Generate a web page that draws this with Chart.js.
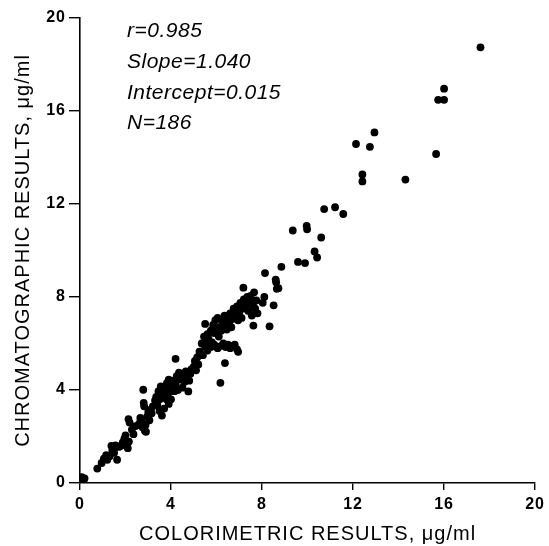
<!DOCTYPE html>
<html>
<head>
<meta charset="utf-8">
<script src="https://cdn.jsdelivr.net/npm/chart.js@4"></script>
<style>
  html, body { margin: 0; padding: 0; background: #fff; }
  #wrap { width: 549px; height: 546px; }
</style>
</head>
<body>
<div id="wrap"><canvas id="myChart" width="549" height="546"></canvas></div>
<script>
// colorimetric (x) vs chromatographic (y) results, ug/ml
const colorimetric = [
    0.05, 0.1, 0.15, 0.2, 0.08,
    0.76, 0.95, 1.05, 1.15, 1.2, 1.3, 1.38, 1.42, 1.5, 1.56, 1.63, 1.7, 1.8, 1.88, 1.95, 2.0, 2.05, 2.1, 2.15, 2.13, 2.18, 2.28, 2.35, 2.45,
    2.6, 2.65, 2.7, 2.75, 2.78, 2.8, 2.82, 2.85, 2.9, 2.88, 2.95, 3.0, 3.05, 3.1, 3.15, 3.2, 3.3, 3.35, 3.4, 3.45,
    3.5, 3.5, 3.55, 3.6, 3.6, 3.7, 3.72, 3.75, 3.8, 3.82, 3.85, 3.9, 3.9, 3.95, 4.0, 4.0, 4.1, 4.12, 4.15, 4.2,
    4.2, 4.25, 4.3, 4.35, 4.4, 4.5,
    4.55, 4.6, 4.65, 4.7, 4.76, 4.8, 4.85, 4.9, 5.0, 5.05, 5.1, 5.15, 5.2, 5.25, 5.35, 5.4, 5.45, 5.5, 5.5, 5.55,
    5.6, 5.6, 5.65, 5.7, 5.75, 5.8,
    5.85, 5.9, 5.95, 6.0, 6.05, 6.1, 6.15, 6.2, 6.25, 6.35, 6.4, 6.45, 6.5, 6.55, 6.6, 6.65, 6.7, 6.75, 6.85, 6.9,
    6.95, 7.0, 7.05, 7.1, 7.15, 7.18, 7.2, 7.3, 7.35, 7.4, 7.45, 7.5, 7.55, 7.6, 7.62, 7.65, 7.7, 7.75, 7.8,
    5.75, 5.9, 6.05, 6.2, 6.3, 6.4, 6.5, 6.6, 6.7, 6.8, 6.9, 6.95, 6.37, 6.17,
    8.03, 8.1, 8.13, 8.33, 8.51, 8.6, 8.62, 8.65, 8.72, 8.85, 9.35, 9.58, 9.89, 9.96, 9.98, 10.31, 10.42, 10.6, 10.73, 11.21,
    11.57, 12.13, 12.41, 12.41, 12.74, 12.94, 14.3, 15.65, 15.74, 16.0, 16.0, 17.6
];
const chromatographic = [
    0.05, 0.15, 0.1, 0.2, 0.25,
    0.62, 0.86, 1.05, 1.2, 1.0, 1.15, 1.6, 1.4, 1.3, 1.62, 1.0, 1.55, 1.6, 1.75, 1.9, 2.05, 1.65, 1.5, 1.78, 2.75, 2.6, 2.3, 2.1, 2.45,
    2.55, 2.8, 2.65, 2.4, 4.01, 3.45, 3.3, 2.25, 2.2, 2.5, 2.85, 3.05, 2.7, 3.15, 3.0, 3.3, 3.55, 3.7, 3.35, 3.95,
    3.6, 3.1, 4.15, 3.8, 2.9, 3.2, 3.9, 4.05, 3.6, 4.3, 3.75, 3.4, 4.45, 3.95, 4.2, 3.6, 4.05, 4.4, 3.95, 5.34,
    4.25, 4.6, 4.0, 4.75, 4.45, 4.1,
    4.55, 4.35, 4.8, 4.6, 3.94, 4.4, 4.7, 4.9, 5.0, 5.25, 4.85, 5.4, 5.1, 5.65, 6.0, 5.5, 6.3, 6.84, 5.85, 6.1,
    5.7, 6.4, 6.2, 5.95, 6.55, 6.05,
    6.8, 6.45, 7.0, 6.6, 7.1, 6.3, 6.7, 6.55, 6.95, 7.2, 6.75, 6.6, 7.0, 6.85, 7.3, 6.7, 7.05, 7.5, 7.2, 7.6,
    7.0, 7.35, 7.75, 7.1, 7.5, 8.4, 7.9, 7.65, 8.0, 7.4, 7.8, 8.05, 7.2, 7.65, 6.77, 8.2, 7.5, 7.85, 7.3,
    5.85, 5.95, 5.8, 5.9, 6.0, 5.85, 5.95, 5.8, 5.9, 5.95, 5.75, 5.64, 5.16, 4.31,
    7.75, 8.0, 9.03, 6.74, 7.64, 8.75, 8.63, 8.35, 8.38, 9.3, 10.86, 9.51, 9.46, 11.06, 10.91, 9.96, 9.7, 10.56, 11.78, 11.86,
    11.57, 14.58, 13.27, 12.97, 14.46, 15.08, 13.05, 14.15, 16.48, 16.48, 16.96, 18.74
];
const tickValues = [0, 4, 8, 12, 16, 20];
const statLines = ["r=0.985", "Slope=1.040", "Intercept=0.015", "N=186"];

const points = colorimetric.map((x, i) => ({ x: x, y: chromatographic[i] }));

// wider letter spacing for the axis text, like the typeset original
const spacing = {
    id: "spacing",
    beforeDraw(chart) { chart.ctx.letterSpacing = "1px"; },
    afterDraw(chart) { chart.ctx.letterSpacing = "0px"; }
};

// regression stats written in the upper left corner
const statsText = {
    id: "statsText",
    afterDraw(chart) {
        const { ctx, chartArea } = chart;
        ctx.save();
        ctx.letterSpacing = "0.5px";
        ctx.fillStyle = "#000";
        ctx.font = "italic 21px 'Liberation Sans', Arial, sans-serif";
        ctx.textBaseline = "middle";
        statLines.forEach((line, i) => {
            ctx.fillText(line, chartArea.left + 47, chartArea.top + 13.5 + i * 30.7);
        });
        ctx.restore();
    }
};

const tickFont = { family: "'Liberation Sans', Arial, sans-serif", size: 16, weight: "bold" };
const titleFont = { family: "'Liberation Sans', Arial, sans-serif", size: 20 };

const ctx = document.getElementById("myChart").getContext("2d");
new Chart(ctx, {
    type: "scatter",
    data: {
        datasets: [{
            data: points,
            backgroundColor: "#000",
            borderColor: "#000",
            pointRadius: 3.9,
            pointBorderWidth: 0,
        }],
    },
    options: {
        responsive: false,
        animation: false,
        layout: { padding: { left: 0, right: 11, top: 18, bottom: 0 } },
        plugins: { legend: { display: false }, tooltip: { enabled: false } },
        scales: {
            x: {
                type: "linear",
                min: 0,
                max: 20,
                afterFit: (scale) => { scale.height = 63; },
                afterBuildTicks: (scale) => { scale.ticks = tickValues.map(v => ({ value: v })); },
                border: { display: true, color: "#000", width: 1.6 },
                grid: { drawOnChartArea: false, drawTicks: true, tickLength: 7, color: "#000", lineWidth: 1.4 },
                ticks: { color: "#000", font: tickFont, padding: 5, maxRotation: 0 },
                title: {
                    display: true,
                    text: "COLORIMETRIC RESULTS, μg/ml",
                    color: "#000",
                    font: titleFont,
                    padding: { top: 0, bottom: 0 },
                },
            },
            y: {
                type: "linear",
                min: 0,
                max: 20,
                afterFit: (scale) => { scale.width = 80; },
                afterBuildTicks: (scale) => { scale.ticks = tickValues.map(v => ({ value: v })); },
                border: { display: true, color: "#000", width: 1.6 },
                grid: { drawOnChartArea: false, drawTicks: true, tickLength: 11, color: "#000", lineWidth: 1.4 },
                ticks: { color: "#000", font: tickFont, padding: 3 },
                title: {
                    display: true,
                    text: "CHROMATOGRAPHIC RESULTS, μg/ml",
                    color: "#000",
                    font: titleFont,
                    padding: { top: 11, bottom: 0 },
                },
            },
        },
    },
    plugins: [spacing, statsText],
});
</script>
</body>
</html>
